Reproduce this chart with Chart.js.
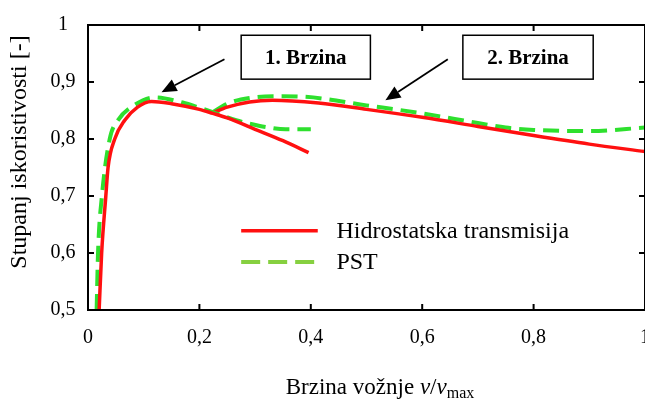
<!DOCTYPE html>
<html>
<head>
<meta charset="utf-8">
<script src="https://cdn.jsdelivr.net/npm/chart.js@4/dist/chart.umd.min.js"></script>
<style>
  html, body { margin: 0; padding: 0; background: #ffffff; }
  #wrap { width: 645px; height: 401px; }
</style>
</head>
<body>
<div id="wrap"><canvas id="chart"></canvas></div>
<script>
const red1X = [0.02, 0.0245, 0.032, 0.036, 0.048, 0.066, 0.089, 0.114, 0.15, 0.2, 0.224, 0.25, 0.3, 0.35, 0.396];
const red1Y = [0.5, 0.6, 0.7, 0.75, 0.8, 0.833, 0.856, 0.866, 0.862, 0.852, 0.845, 0.837, 0.817, 0.797, 0.776];
const green1X = [0.0155, 0.018, 0.025, 0.039, 0.054, 0.084, 0.12, 0.17, 0.2, 0.23, 0.266, 0.29, 0.32, 0.355, 0.4];
const green1Y = [0.5, 0.6, 0.7, 0.8, 0.833, 0.86, 0.873, 0.864, 0.855, 0.845, 0.833, 0.827, 0.821, 0.817, 0.817];
const red2X = [0.224, 0.25, 0.29, 0.331, 0.414, 0.5, 0.6, 0.7, 0.8, 0.9, 1.0];
const red2Y = [0.846, 0.856, 0.865, 0.868, 0.863, 0.852, 0.838, 0.822, 0.806, 0.791, 0.778];
const green2X = [0.224, 0.25, 0.29, 0.34, 0.39, 0.5, 0.6, 0.7, 0.75, 0.8, 0.9, 1.0];
const green2Y = [0.847, 0.862, 0.872, 0.875, 0.874, 0.859, 0.845, 0.828, 0.82, 0.816, 0.814, 0.82];

const xTicks = [0, 0.2, 0.4, 0.6, 0.8, 1];
const xTickLabels = ['0', '0,2', '0,4', '0,6', '0,8', '1'];
const yTicks = [0.5, 0.6, 0.7, 0.8, 0.9, 1];
const yTickLabels = ['0,5', '0,6', '0,7', '0,8', '0,9', '1'];

const seriesNames = ['Hidrostatska transmisija', 'PST'];
const gearLabels = ['1. Brzina', '2. Brzina'];

const RED = '#ff1010';
const GREEN = '#2ee02e';
const FONT = "'Liberation Serif', 'Times New Roman', serif";

function pts(xs, ys) {
  return xs.map((x, i) => ({ x: x, y: ys[i] }));
}

function redSet(data) {
  return { data: data, borderColor: RED, borderWidth: 3.5, pointRadius: 0, cubicInterpolationMode: 'monotone', fill: false };
}
function greenSet(data) {
  return { data: data, borderColor: GREEN, borderWidth: 4, borderDash: [16, 8], pointRadius: 0, cubicInterpolationMode: 'monotone', fill: false };
}

// frame, inward ticks, tick labels, axis titles, legend and call-outs
const decorations = {
  id: 'decorations',
  afterDraw(chart) {
    const ctx = chart.ctx;
    const xs = chart.scales.x, ys = chart.scales.y;
    const a = chart.chartArea;
    const X = v => xs.getPixelForValue(v);
    const Y = v => ys.getPixelForValue(v);
    ctx.save();

    ctx.strokeStyle = '#000';
    ctx.lineWidth = 2;
    ctx.strokeRect(a.left, a.top, a.right - a.left, a.bottom - a.top);

    ctx.beginPath();
    xTicks.forEach(t => {
      const px = X(t);
      ctx.moveTo(px, a.bottom); ctx.lineTo(px, a.bottom - 6);
      ctx.moveTo(px, a.top); ctx.lineTo(px, a.top + 6);
    });
    yTicks.forEach(t => {
      const py = Y(t);
      ctx.moveTo(a.left, py); ctx.lineTo(a.left + 6, py);
      ctx.moveTo(a.right, py); ctx.lineTo(a.right - 6, py);
    });
    ctx.stroke();

    ctx.fillStyle = '#000';
    ctx.font = '20px ' + FONT;
    ctx.textAlign = 'center';
    ctx.textBaseline = 'middle';
    xTicks.forEach((t, i) => ctx.fillText(xTickLabels[i], X(t), a.bottom + 28));
    yTicks.forEach((t, i) => ctx.fillText(yTickLabels[i], a.left - 25, Y(t)));

    // y title
    ctx.save();
    ctx.translate(20, 152);
    ctx.rotate(-Math.PI / 2);
    ctx.font = '24px ' + FONT;
    ctx.fillText('Stupanj iskoristivosti [-]', 0, 0);
    ctx.restore();

    // x title with italic v and subscript
    const parts = [
      { t: 'Brzina vožnje ', f: '23px ' + FONT, dy: 0 },
      { t: 'v', f: 'italic 23px ' + FONT, dy: 0 },
      { t: '/', f: '23px ' + FONT, dy: 0 },
      { t: 'v', f: 'italic 23px ' + FONT, dy: 0 },
      { t: 'max', f: '16px ' + FONT, dy: 4 }
    ];
    let total = 0;
    parts.forEach(p => { ctx.font = p.f; p.w = ctx.measureText(p.t).width; total += p.w; });
    let cx = 380 - total / 2;
    ctx.textAlign = 'left';
    ctx.textBaseline = 'alphabetic';
    parts.forEach(p => { ctx.font = p.f; ctx.fillText(p.t, cx, 394 + p.dy); cx += p.w; });

    // legend
    ctx.lineWidth = 3.5;
    ctx.strokeStyle = RED;
    ctx.beginPath();
    ctx.moveTo(X(0.275), Y(0.639)); ctx.lineTo(X(0.4125), Y(0.639));
    ctx.stroke();
    ctx.lineWidth = 4;
    ctx.strokeStyle = '#86d040';
    ctx.setLineDash([19, 8]);
    ctx.beginPath();
    ctx.moveTo(X(0.275), Y(0.584)); ctx.lineTo(X(0.4125), Y(0.584));
    ctx.stroke();
    ctx.setLineDash([]);
    ctx.font = '24px ' + FONT;
    ctx.textBaseline = 'middle';
    ctx.fillText(seriesNames[0], X(0.446), Y(0.639) + 1);
    ctx.fillText(seriesNames[1], X(0.446), Y(0.584) + 1);

    // call-out boxes and arrows
    const boxes = [
      { x0: 0.275, x1: 0.507, from: [0.245, 0.94], to: [0.132, 0.882] },
      { x0: 0.673, x1: 0.907, from: [0.646, 0.94], to: [0.534, 0.868] }
    ];
    boxes.forEach((b, i) => {
      const l = X(b.x0), r = X(b.x1), t = Y(0.982), bt = Y(0.905);
      ctx.fillStyle = '#fff';
      ctx.fillRect(l, t, r - l, bt - t);
      ctx.strokeStyle = '#000';
      ctx.lineWidth = 1.5;
      ctx.strokeRect(l, t, r - l, bt - t);
      ctx.fillStyle = '#000';
      ctx.font = 'bold 21px ' + FONT;
      ctx.textAlign = 'center';
      ctx.fillText(gearLabels[i], (l + r) / 2, (t + bt) / 2 + 1);

      const fx = X(b.from[0]), fy = Y(b.from[1]), tx = X(b.to[0]), ty = Y(b.to[1]);
      const ang = Math.atan2(ty - fy, tx - fx);
      const hl = 15, hw = 6.5;
      const bx = tx - hl * Math.cos(ang), by = ty - hl * Math.sin(ang);
      ctx.lineWidth = 1.8;
      ctx.beginPath();
      ctx.moveTo(fx, fy); ctx.lineTo(bx, by);
      ctx.stroke();
      ctx.beginPath();
      ctx.moveTo(tx, ty);
      ctx.lineTo(bx + hw * Math.sin(ang), by - hw * Math.cos(ang));
      ctx.lineTo(bx - hw * Math.sin(ang), by + hw * Math.cos(ang));
      ctx.closePath();
      ctx.fill();
    });

    ctx.restore();
  }
};

new Chart(document.getElementById('chart'), {
  type: 'line',
  data: {
    datasets: [
      redSet(pts(red1X, red1Y)),
      greenSet(pts(green1X, green1Y)),
      redSet(pts(red2X, red2Y)),
      greenSet(pts(green2X, green2Y))
    ]
  },
  options: {
    responsive: true,
    maintainAspectRatio: false,
    animation: false,
    layout: { padding: { left: 88, top: 25, right: -3, bottom: 91 } },
    plugins: { legend: { display: false }, tooltip: { enabled: false } },
    scales: {
      x: { type: 'linear', min: 0, max: 1, display: false },
      y: { type: 'linear', min: 0.5, max: 1, display: false }
    }
  },
  plugins: [decorations]
});
</script>
</body>
</html>
